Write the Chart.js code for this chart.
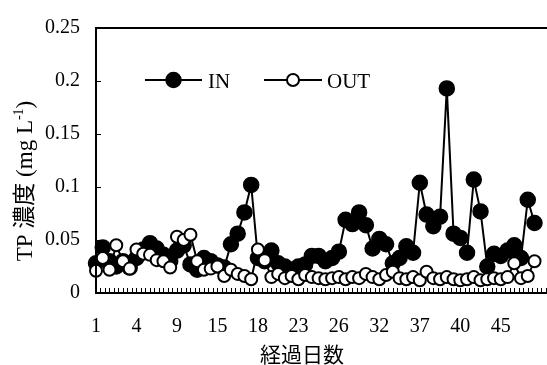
<!DOCTYPE html>
<html><head><meta charset="utf-8">
<script src="https://cdn.jsdelivr.net/npm/chart.js@4"></script>
<style>
html,body{margin:0;padding:0;background:#fff;}
#wrap{width:547px;height:365px;overflow:hidden;position:relative;}
canvas{display:block;}
</style></head><body>
<div id="wrap"><canvas id="c" width="570" height="365"></canvas></div>
<script>
// ---- data ----
const tickLabels = ['1','4','9','15','18','23','26','32','37','40','45'];
const labelEvery = 6;
const seriesNames = ['IN','OUT'];
const inValues = [0.028,0.043,0.030,0.025,0.030,0.024,0.033,0.041,0.047,0.042,
  0.036,0.030,0.040,0.045,0.027,0.022,0.033,0.030,0.026,0.024,
  0.046,0.056,0.076,0.102,0.033,0.030,0.040,0.028,0.025,0.022,
  0.025,0.027,0.035,0.035,0.030,0.033,0.039,0.069,0.065,0.076,
  0.064,0.042,0.051,0.046,0.028,0.033,0.044,0.038,0.104,0.074,
  0.063,0.072,0.193,0.056,0.052,0.038,0.107,0.077,0.025,0.037,
  0.035,0.040,0.045,0.033,0.088,0.066];
const outValues = [0.021,0.033,0.022,0.045,0.030,0.023,0.041,0.037,0.036,0.031,
  0.030,0.024,0.053,0.050,0.055,0.030,0.022,0.023,0.025,0.016,
  0.022,0.018,0.016,0.013,0.041,0.031,0.015,0.018,0.014,0.016,
  0.013,0.017,0.015,0.014,0.013,0.014,0.015,0.013,0.015,0.014,
  0.018,0.015,0.013,0.017,0.020,0.014,0.013,0.015,0.012,0.020,
  0.014,0.013,0.015,0.013,0.012,0.013,0.015,0.012,0.013,0.014,
  0.013,0.015,0.028,0.014,0.016,0.030];
const yTitleMain = 'TP 濃度 (mg L';
const yTitleSup = '-1';
const yTitleEnd = ')';
const xTitle = '経過日数';

// ---- styles ----
const SERIF = '"Liberation Serif", "Noto Sans CJK JP", serif';
const minorStep = 2/3;

const toPts = arr => arr.map((v,i)=>({x:i,y:v}));

const decor = {
  id:'decor',
  afterDatasetsDraw(chart){
    const {ctx, chartArea:a, scales:{x,y}} = chart;
    ctx.save();
    ctx.strokeStyle='#000';
    ctx.lineWidth=1;
    ctx.beginPath();
    for(let k=1;;k++){
      const px=x.getPixelForValue(k*minorStep);
      if(px>a.right) break;
      const xx=Math.round(px)+0.5;
      ctx.moveTo(xx,a.bottom); ctx.lineTo(xx,a.bottom-5);
    }
    y.ticks.forEach(t=>{
      const py=Math.round(y.getPixelForValue(t.value))+0.5;
      ctx.moveTo(a.left,py); ctx.lineTo(a.left+5,py);
    });
    ctx.stroke();
    ctx.lineWidth=2;
    ctx.strokeRect(a.left,a.top,a.right-a.left,a.bottom-a.top);
    ctx.restore();
  },
  afterDraw(chart){
    const {ctx} = chart;
    ctx.save();
    ctx.fillStyle='#000';
    // legend (IN first, then OUT)
    const byLabel = l => chart.data.datasets.find(d=>d.label===l);
    const items=[{x0:145,x1:202,cx:173.5,tx:208,name:seriesNames[0]},{x0:264,x1:322,cx:293,tx:327,name:seriesNames[1]}];
    const ly=80;
    items.forEach(it=>{
      const d=byLabel(it.name);
      ctx.strokeStyle='#000'; ctx.lineWidth=2;
      ctx.beginPath(); ctx.moveTo(it.x0,ly); ctx.lineTo(it.x1,ly); ctx.stroke();
      ctx.beginPath(); ctx.arc(it.cx,ly,d.pointRadius,0,Math.PI*2);
      ctx.fillStyle=d.pointBackgroundColor; ctx.fill();
      ctx.lineWidth=d.pointBorderWidth; ctx.strokeStyle=d.pointBorderColor; ctx.stroke();
      ctx.fillStyle='#000';
      ctx.font='21px '+SERIF; ctx.textBaseline='alphabetic'; ctx.textAlign='left';
      ctx.fillText(d.label,it.tx,ly+8);
    });
    // x title
    ctx.font='21px "Noto Sans CJK JP", sans-serif';
    ctx.textAlign='center'; ctx.textBaseline='middle';
    ctx.fillText(xTitle,302,354);
    // y title
    ctx.translate(31.5,181); ctx.rotate(-Math.PI/2);
    ctx.textAlign='left'; ctx.textBaseline='alphabetic';
    const mf='23px '+SERIF, sf='14px '+SERIF;
    ctx.font=mf; const w1=ctx.measureText(yTitleMain).width;
    ctx.font=sf; const w2=ctx.measureText(yTitleSup).width;
    ctx.font=mf; const w3=ctx.measureText(yTitleEnd).width;
    let xx=-(w1+w2+w3)/2;
    ctx.font=mf; ctx.fillText(yTitleMain,xx,0); xx+=w1;
    ctx.font=sf; ctx.fillText(yTitleSup,xx,-9); xx+=w2;
    ctx.font=mf; ctx.fillText(yTitleEnd,xx,0);
    ctx.restore();
  }
};

new Chart(document.getElementById('c'),{
  type:'line',
  data:{datasets:[
    {label:seriesNames[1],data:toPts(outValues),order:0,borderColor:'#000',borderWidth:2,
     pointRadius:6,pointBorderWidth:2,pointBackgroundColor:'#fff',pointBorderColor:'#000',
     tension:0,clip:false},
    {label:seriesNames[0],data:toPts(inValues),order:1,borderColor:'#000',borderWidth:2,
     pointRadius:7.5,pointBorderWidth:1.5,pointBackgroundColor:'#000',pointBorderColor:'#000',
     tension:0,clip:false}
  ]},
  options:{
    responsive:false,animation:false,devicePixelRatio:1,
    layout:{padding:{top:17,right:8.35,left:0,bottom:0}},
    plugins:{legend:{display:false},tooltip:{enabled:false}},
    events:[],
    scales:{
      x:{type:'linear',min:0,max:67,
        grid:{display:false,drawTicks:false},border:{display:false},
        afterFit(s){s.height=72;},
        ticks:{stepSize:labelEvery,autoSkip:false,maxRotation:0,padding:22,color:'#000',
          font:{family:SERIF,size:20},
          callback:(v)=>{const k=v/labelEvery; return Number.isInteger(k)&&tickLabels[k]!==undefined?tickLabels[k]:'';}}
      },
      y:{min:0,max:0.25,
        grid:{display:false,drawTicks:false},border:{display:false},
        afterFit(s){s.width=96;},
        ticks:{stepSize:0.05,padding:16,color:'#000',font:{family:SERIF,size:20},
          callback:(v)=>String(+v.toFixed(2))}
      }
    }
  },
  plugins:[decor]
});
</script>
</body></html>
